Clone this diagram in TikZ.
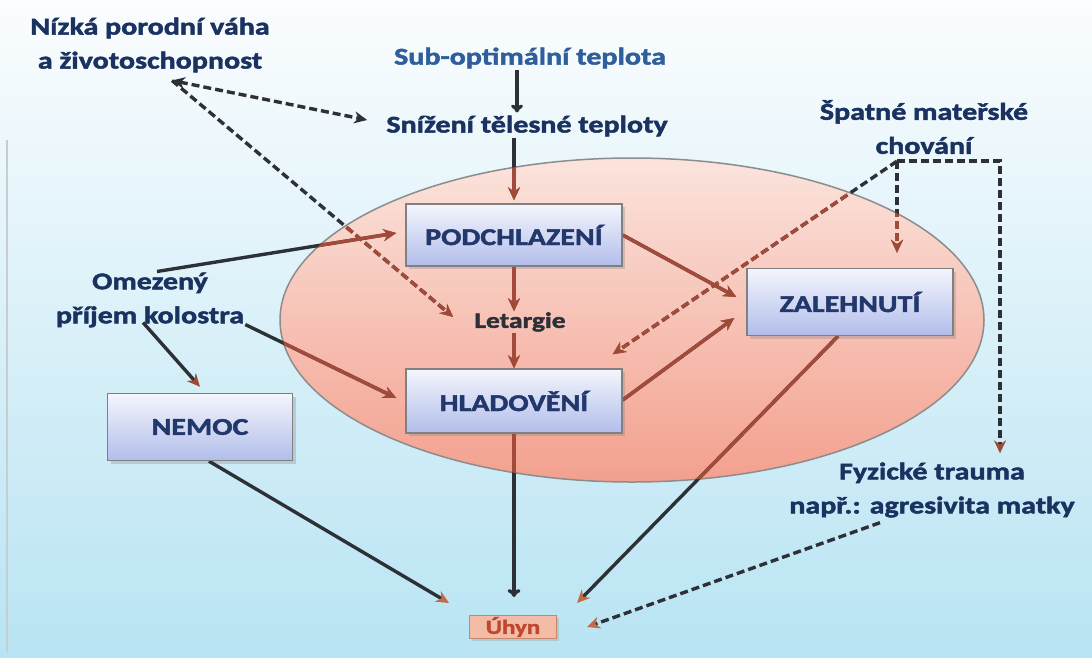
\documentclass[tikz,border=0pt]{standalone}
\usepackage{fontspec}
\setmainfont{Carlito}[FakeStretch=1.25, BoldFeatures={FakeBold=2}]
\usetikzlibrary{arrows.meta,shadows,calc}
\definecolor{bgtop}{HTML}{FBFDFE}
\definecolor{bgbot}{HTML}{B8E4F3}
\definecolor{elltop}{HTML}{FBE4DD}
\definecolor{ellbot}{HTML}{F3A08E}
\definecolor{ellborder}{HTML}{8C8C8C}
\definecolor{navy}{HTML}{1A3260}
\definecolor{subblue}{HTML}{2F5E9C}
\definecolor{darkln}{HTML}{2E3038}
\definecolor{brownln}{HTML}{A34A3A}
\definecolor{tipbrown}{HTML}{9E4A36}
\definecolor{tiporange}{HTML}{C46A45}
\definecolor{boxtop}{HTML}{F4F5FC}
\definecolor{boxbot}{HTML}{B2BEEB}
\definecolor{boxborder}{HTML}{808080}
\definecolor{boxtext}{HTML}{22376B}
\definecolor{uhynfill}{HTML}{F3BCA6}
\definecolor{uhynborder}{HTML}{C9866A}
\definecolor{uhyntext}{HTML}{C0472F}
\definecolor{edgeline}{HTML}{C8CDD2}
\newcommand\drawlinks{%
  % Sub-optimalni -> Snizeni
  \draw[lc,sl,-{To[length=8pt,width=12pt]}] ([xshift=-13pt]subopt.south) -- ([xshift=-10pt,yshift=2pt]snizeni.north);
  % Snizeni -> Podchlazeni
  \draw[lc,sl,tb] ([xshift=-13pt]snizeni.south) -- ([yshift=3pt]podch.north);
  % Nizka <-> Snizeni, Nizka -> Letargie
  \draw[lc,dl,{Stealth[length=13pt,width=12pt]}-{Stealth[length=13pt,width=12pt]}] (nz) -- ([xshift=-18pt,yshift=6pt]snizeni.west);
  \draw[lc,dl,tb] (nz) -- ([xshift=-20pt,yshift=5pt]letargie.west);
  % Omezeny -> Podchlazeni, Hladoveni, Nemoc
  \draw[lc,sl,tb] ([xshift=7pt]omez.north) -- ([xshift=-9pt,yshift=2pt]podch.west);
  \draw[lc,sl,tb] ([yshift=4pt]omez.south east) -- ([xshift=-9pt,yshift=3pt]hlad.west);
  \draw[lc,sl,tb] ([xshift=-7pt,yshift=6pt]omez.south) -- ([yshift=6pt]nemoc.north);
  % Podchlazeni -> Letargie -> Hladoveni
  \draw[lc,sl,tb] (podch.south) -- (podch.south |- letargie.north);
  \draw[lc,sl,tb] (hlad.north |- letargie.south) -- (hlad.north);
  % Podchlazeni, Hladoveni -> Zalehnuti
  \draw[lc,sl,tb] (podch.east) -- ([xshift=-10pt,yshift=5pt]zal.west);
  \draw[lc,sl,tb] ([yshift=1pt]hlad.east) -- ([xshift=-12pt,yshift=-16pt]zal.west);
  % Spatne -> Hladoveni, Zalehnuti, Fyzicke
  \draw[lc,dl,tb] (sp) -- ([xshift=-10pt,yshift=14pt]hlad.north east);
  \draw[lc,dl,tb,shorten >=15pt] (sp) -- (sp |- zal.north);
  \draw[lc,dl,tb] (sp) -| ([xshift=68pt,yshift=8pt]fyz.north);
  % -> Uhyn
  \draw[lc,sl,to] ([xshift=9pt]nemoc.south) -- ([xshift=-20pt,yshift=12pt]uhyn.north west);
  \draw[lc,sl,-{To[length=8pt,width=13pt]},shorten >=18pt] (hlad.south) -- (hlad.south |- uhyn.north);
  \draw[lc,sl,to] ([xshift=-12pt]zal.south) -- ([xshift=20pt,yshift=12pt]uhyn.north east);
  \draw[lc,dl,to] ([xshift=-52pt,yshift=-4pt]fyz.south) -- ([xshift=30pt]uhyn.east);
}
\begin{document}
\begin{tikzpicture}[x=1pt,y=-1pt,
  lbl/.style={font=\fontsize{24}{34}\selectfont\bfseries, text=navy, align=center, inner sep=1pt},
  boxnode/.style={draw=boxborder, line width=1.4pt, top color=boxtop, bottom color=boxbot,
    font=\fontsize{24}{28}\selectfont\bfseries, text=boxtext, inner sep=0pt},
  boxshadow/.style={drop shadow={shadow xshift=3pt, shadow yshift=-3pt, opacity=0.3}},
  sl/.style={line width=3.4pt},
  dl/.style={line width=3.4pt, dash pattern=on 8pt off 4pt},
  tb/.style={-{Stealth[length=13pt,width=12pt,color=tipbrown]}},
  to/.style={-{Stealth[length=13pt,width=12pt,color=tiporange]}},
  lc/.style={draw=darkln}]
\useasboundingbox (0,0) rectangle (1092,657);
\shade[top color=bgtop, bottom color=bgbot] (0,0) rectangle (1092,657);
\draw[edgeline, line width=1.5pt] (7,140) -- (7,652);
% ellipse
\shade[top color=elltop, bottom color=ellbot] (632,320) ellipse [x radius=352pt, y radius=162pt];
\draw[ellborder, line width=1.5pt] (632,320) ellipse [x radius=352pt, y radius=162pt];
% text labels
\node[lbl] (nizka) at (150,45) {Nízká porodní váha\\a životoschopnost};
\node[lbl, text=subblue] (subopt) at (530,58) {Sub-optimální teplota};
\node[lbl] (snizeni) at (527,126) {Snížení tělesné teploty};
\node[lbl] (spatne) at (924,127) {Špatné mateřské\\chování};
\node[lbl] (omez) at (150,300) {Omezený\\příjem kolostra};
\node[lbl] (fyz) at (932,490) {Fyzické trauma\\např.: agresivita matky};
\node[lbl, font=\fontsize{22}{26}\selectfont\bfseries, text=darkln] (letargie) at (520,322) {Letargie};
% boxes (named, placed first so the connectors can refer to them)
\node[boxnode, boxshadow, minimum width=216pt, minimum height=62pt] (podch) at (514,235) {PODCHLAZENÍ};
\node[boxnode, boxshadow, minimum width=216pt, minimum height=64pt] (hlad) at (514,401) {HLADOVĚNÍ};
\node[boxnode, boxshadow, minimum width=206pt, minimum height=67pt] (zal) at (850,302) {ZALEHNUTÍ};
\node[boxnode, boxshadow, minimum width=185pt, minimum height=67pt] (nemoc) at (200,427) {NEMOC};
\node[draw=uhynborder, line width=1pt, fill=uhynfill, text=uhyntext, inner sep=1pt,
  font=\fontsize{20}{24}\selectfont\bfseries, minimum width=87pt, minimum height=23pt,
  drop shadow={shadow xshift=2pt, shadow yshift=-2pt, opacity=0.25}] (uhyn) at (513,627) {Úhyn};
\coordinate (nz) at ([xshift=22pt,yshift=-7pt]nizka.south);
\coordinate (sp) at ([xshift=-27pt,yshift=-6pt]spatne.south);
% connectors: dark pass, then brown pass inside the ellipse
\drawlinks
\begin{scope}
\clip (632,320) ellipse [x radius=352pt, y radius=162pt];
\tikzset{lc/.style={draw=brownln}}
\drawlinks
\end{scope}
% boxes again on top of the connectors
\node[boxnode, minimum width=216pt, minimum height=62pt] at (podch) {PODCHLAZENÍ};
\node[boxnode, minimum width=216pt, minimum height=64pt] at (hlad) {HLADOVĚNÍ};
\node[boxnode, minimum width=206pt, minimum height=67pt] at (zal) {ZALEHNUTÍ};
\node[boxnode, minimum width=185pt, minimum height=67pt] at (nemoc) {NEMOC};
\end{tikzpicture}
\end{document}
